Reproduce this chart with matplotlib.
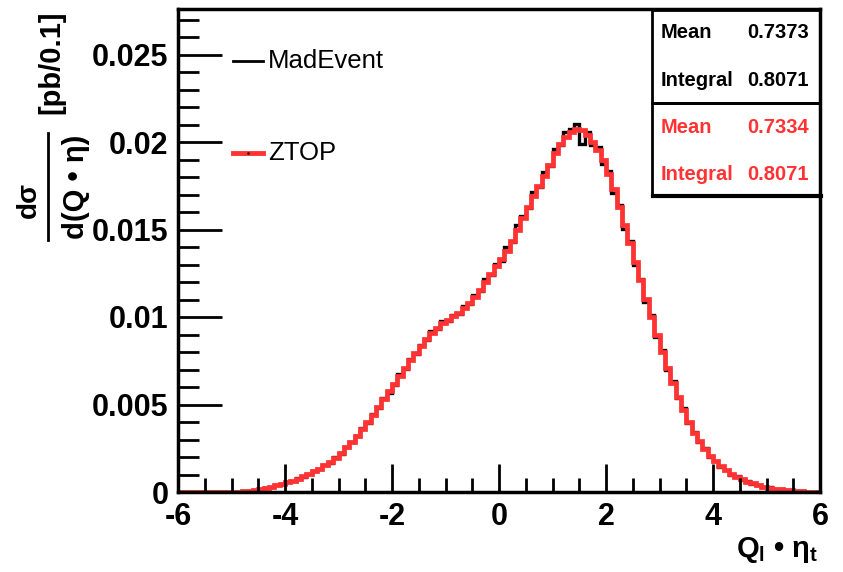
import numpy as np
import matplotlib
matplotlib.use("Agg")
import matplotlib.pyplot as plt
from matplotlib.lines import Line2D
from matplotlib.patches import Rectangle

plt.rcParams["font.family"] = ["Liberation Sans", "DejaVu Sans"]
plt.rcParams["axes.unicode_minus"] = False
plt.rcParams["mathtext.fontset"] = "custom"
plt.rcParams["mathtext.rm"] = "Liberation Sans:bold"
plt.rcParams["mathtext.bf"] = "Liberation Sans:bold"
plt.rcParams["mathtext.it"] = "Liberation Sans:bold"

# 120 bins of width 0.1 from -6 to 6
x_lo, x_hi, n_bins = -6.0, 6.0, 120

ztop = [
    0, 0, 0, 0, 0, 0, 0, 0, 0, 0, 0.00001, 0.00002,
    0.00004, 0.00006, 0.00010, 0.00016, 0.00022, 0.00030, 0.00038, 0.00046,
    0.00055, 0.00065, 0.00077, 0.00090, 0.00104, 0.00118, 0.00134, 0.00152,
    0.00172, 0.00195, 0.00222, 0.00255, 0.00288, 0.00322, 0.00358, 0.00398,
    0.00440, 0.00485, 0.00530, 0.00575, 0.00620, 0.00665, 0.00710, 0.00755,
    0.00795, 0.00835, 0.00875, 0.00910, 0.00940, 0.00965, 0.00985, 0.01005,
    0.01025, 0.01050, 0.01080, 0.01115, 0.01155, 0.01200, 0.01245, 0.01290,
    0.01330, 0.01380, 0.01435, 0.01500, 0.01565, 0.01630, 0.01690, 0.01750,
    0.01805, 0.01870, 0.01935, 0.01990, 0.02030, 0.02060, 0.02075, 0.02070,
    0.02040, 0.02000, 0.01955, 0.01895, 0.01820, 0.01730, 0.01630, 0.01525,
    0.01420, 0.01315, 0.01210, 0.01105, 0.01000, 0.00900, 0.00800, 0.00710,
    0.00625, 0.00545, 0.00470, 0.00400, 0.00340, 0.00290, 0.00245, 0.00208,
    0.00175, 0.00148, 0.00125, 0.00105, 0.00088, 0.00073, 0.00060, 0.00049,
    0.00039, 0.00031, 0.00025, 0.00020, 0.00016, 0.00012, 0.00009, 0.00006,
    0.00004, 0.00002, 0.00001, 0,
]

madevent = [
    0, 0, 0, 0, 0, 0, 0, 0, 0, 0, 0.00001, 0.00002,
    0.00003, 0.00007, 0.00009, 0.00015, 0.00024, 0.00028, 0.00040, 0.00044,
    0.00057, 0.00063, 0.00080, 0.00088, 0.00102, 0.00121, 0.00131, 0.00155,
    0.00168, 0.00199, 0.00218, 0.00260, 0.00284, 0.00318, 0.00365, 0.00392,
    0.00446, 0.00478, 0.00536, 0.00568, 0.00612, 0.00672, 0.00702, 0.00762,
    0.00788, 0.00842, 0.00868, 0.00918, 0.00932, 0.00975, 0.00978, 0.01012,
    0.01020, 0.01062, 0.01072, 0.01128, 0.01150, 0.01215, 0.01238, 0.01302,
    0.01322, 0.01398, 0.01428, 0.01525, 0.01578, 0.01622, 0.01715, 0.01742,
    0.01830, 0.01865, 0.01960, 0.01985, 0.02055, 0.02075, 0.02105, 0.01990,
    0.02060, 0.01980, 0.01970, 0.01875, 0.01835, 0.01710, 0.01640, 0.01505,
    0.01435, 0.01300, 0.01220, 0.01085, 0.01010, 0.00885, 0.00810, 0.00695,
    0.00632, 0.00535, 0.00478, 0.00392, 0.00345, 0.00283, 0.00250, 0.00202,
    0.00178, 0.00142, 0.00128, 0.00100, 0.00090, 0.00069, 0.00062, 0.00046,
    0.00041, 0.00028, 0.00026, 0.00018, 0.00017, 0.00010, 0.00010, 0.00005,
    0.00004, 0.00002, 0.00001, 0,
]

stats_labels = ["Mean", "Integral"]
stats_madevent = ["0.7373", "0.8071"]
stats_ztop = ["0.7334", "0.8071"]

W, H = 843, 572


def fx(px):
    return px / W


def fy(py):
    return 1 - py / H


fig = plt.figure(figsize=(W / 100, H / 100), dpi=100)
ax = fig.add_axes([fx(178), fy(492), fx(820) - fx(178), fy(9) - fy(492)])

edges = np.linspace(x_lo, x_hi, n_bins + 1)
ax.stairs(madevent, edges, color="black", lw=2.4, baseline=None)
ax.stairs(ztop, edges, color="#ff3333", lw=3.4, baseline=None)

ax.set_xlim(x_lo, x_hi)
ax.set_ylim(0, 0.0276)
ax.set_xticks(np.arange(-6, 7, 2))
ax.set_xticks(np.arange(-6, 6.01, 0.5), minor=True)
ax.set_yticks([0, 0.005, 0.01, 0.015, 0.02, 0.025])
ax.set_yticklabels(["0", "0.005", "0.01", "0.015", "0.02", "0.025"])
ax.set_yticks(np.arange(0, 0.0276, 0.001), minor=True)
ax.tick_params(axis="both", which="both", direction="in", width=2, labelsize=22)
ax.tick_params(axis="x", which="major", length=20, pad=7)
ax.tick_params(axis="x", which="minor", length=10)
ax.tick_params(axis="y", which="major", length=32, pad=7)
ax.tick_params(axis="y", which="minor", length=15)
for lab in ax.get_xticklabels() + ax.get_yticklabels():
    lab.set_fontweight("bold")
for sp in ax.spines.values():
    sp.set_linewidth(2.5)

# legend
fig.add_artist(Line2D([fx(233), fx(263)], [fy(61), fy(61)], color="black", lw=2))
fig.text(fx(268), fy(61), "MadEvent", fontsize=18.5, va="center", ha="left")
fig.add_artist(Line2D([fx(233), fx(263)], [fy(153), fy(153)], color="#ff3333", lw=3.5))
fig.add_artist(Line2D([fx(248)], [fy(153)], color="black", marker=".", ms=1.5, lw=0))
fig.text(fx(268), fy(153), "ZTOP", fontsize=18.5, va="center", ha="left")

# stats boxes
for top, bot in [(10, 103), (103, 195)]:
    fig.add_artist(Rectangle((fx(652), fy(bot)), fx(820) - fx(652), fy(top) - fy(bot),
                             transform=fig.transFigure, fill=False, ec="black", lw=2))
fig.add_artist(Line2D([fx(653), fx(821)], [fy(196), fy(196)], color="black", lw=3))
rows = [(32, stats_labels[0], stats_madevent[0], "black"),
        (80, stats_labels[1], stats_madevent[1], "black"),
        (127, stats_labels[0], stats_ztop[0], "#ff3333"),
        (175, stats_labels[1], stats_ztop[1], "#ff3333")]
for py, lab, val, col in rows:
    fig.text(fx(661), fy(py), lab, fontsize=14.5, fontweight="bold", color=col, va="center", ha="left")
    fig.text(fx(809), fy(py), val, fontsize=14.5, fontweight="bold", color=col, va="center", ha="right")

# y axis title (fraction)
fig.text(fx(29), fy(200), "d\u03c3", rotation=90, fontsize=20, fontweight="bold", va="center", ha="center")
fig.add_artist(Line2D([fx(48), fx(48)], [fy(240), fy(133)], color="black", lw=2))
fig.text(fx(76), fy(187), "d(Q \u2022 \u03b7)", rotation=90, fontsize=21, fontweight="bold",
         va="center", ha="center")
fig.text(fx(51), fy(62), "[pb/0.1]", rotation=90, fontsize=21, fontweight="bold", va="center", ha="center")

# x axis title
fig.text(fx(818), fy(550), r"$\mathbf{Q}_{\mathbf{l}}$ \u2022 $\eta_{\mathbf{t}}$".replace("\\u2022", "\u2022"),
         fontsize=21, fontweight="bold", va="center", ha="right")

fig.savefig("out.png", dpi=100)
